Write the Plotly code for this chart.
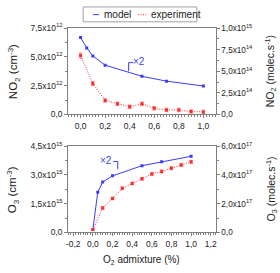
import plotly.graph_objects as go

# ---------------- data ----------------
x_model = [0.0, 0.05, 0.1, 0.2, 0.5, 0.7, 1.0]
no2_model = [6.69e12, 5.78e12, 5.08e12, 4.28e12, 3.31e12, 2.89e12, 2.47e12]
o3_model = [0.15e15, 2.10e15, 2.63e15, 2.95e15, 3.48e15, 3.68e15, 3.97e15]

x_exp = [0.0, 0.1, 0.2, 0.3, 0.4, 0.5, 0.6, 0.7, 0.8, 0.9, 1.0]
no2_exp = [5.11e12, 2.69e12, 1.22e12, 0.92e12, 0.67e12, 0.92e12, 0.53e12, 0.39e12, 0.39e12, 0.25e12, 0.22e12]
no2_err = [0.22e12, 0.18e12, 0.15e12, 0.15e12, 0.15e12, 0.15e12, 0.15e12, 0.15e12, 0.15e12, 0.15e12, 0.15e12]
o3_exp = [0.15e15, 1.28e15, 1.77e15, 2.30e15, 2.55e15, 2.80e15, 3.05e15, 3.18e15, 3.35e15, 3.52e15, 3.68e15]
o3_err = [0.05e15, 0.07e15, 0.07e15, 0.07e15, 0.07e15, 0.07e15, 0.07e15, 0.08e15, 0.08e15, 0.08e15, 0.08e15]

top_xticks = [0.0, 0.2, 0.4, 0.6, 0.8, 1.0]
top_xlabels = ["0,0", "0,2", "0,4", "0,6", "0,8", "1,0"]
bot_xticks = [-0.2, 0.0, 0.2, 0.4, 0.6, 0.8, 1.0, 1.2]
bot_xlabels = ["-0,2", "0,0", "0,2", "0,4", "0,6", "0,8", "1,0", "1,2"]

no2_lticks = [0, 2.5e12, 5.0e12, 7.5e12]
no2_llabels = ["0,0", "2,5x10<sup>12</sup>", "5,0x10<sup>12</sup>", "7,5x10<sup>12</sup>"]
no2_rticks = [0, 2.5e14, 5.0e14, 7.5e14, 1.0e15]
no2_rlabels = ["0,0", "2,5x10<sup>14</sup>", "5,0x10<sup>14</sup>", "7,5x10<sup>14</sup>", "1,0x10<sup>15</sup>"]
o3_lticks = [0, 1.5e15, 3.0e15, 4.5e15]
o3_llabels = ["0,0", "1,5x10<sup>15</sup>", "3,0x10<sup>15</sup>", "4,5x10<sup>15</sup>"]
o3_rticks = [0, 2.0e17, 4.0e17, 6.0e17]
o3_rlabels = ["0,0", "2,0x10<sup>17</sup>", "4,0x10<sup>17</sup>", "6,0x10<sup>17</sup>"]

BLUE = "#3b3bff"
RED = "#ff2a2a"
ERR = "#ff8a8a"
GRAY = "#7f7f7f"
TXT = "#222222"
FONT = "Liberation Sans"
DOTS = "1px,1.5px"

W, H = 280, 273


def px(x, y):
    return x / W, 1 - y / H


fig = go.Figure()

# top panel
fig.add_trace(go.Scatter(x=x_model, y=no2_model, mode="lines+markers", xaxis="x", yaxis="y",
                         line=dict(color=BLUE, width=1), marker=dict(symbol="square", size=3, color=BLUE),
                         showlegend=False))
fig.add_trace(go.Scatter(x=x_exp, y=no2_exp, mode="lines+markers", xaxis="x", yaxis="y",
                         line=dict(color=RED, width=1, dash=DOTS),
                         marker=dict(symbol="square", size=3, color=RED),
                         error_y=dict(type="data", array=no2_err, color=ERR, thickness=1, width=2),
                         showlegend=False))
# bottom panel
fig.add_trace(go.Scatter(x=x_model, y=o3_model, mode="lines+markers", xaxis="x2", yaxis="y3",
                         line=dict(color=BLUE, width=1), marker=dict(symbol="square", size=3, color=BLUE),
                         showlegend=False))
fig.add_trace(go.Scatter(x=x_exp, y=o3_exp, mode="lines+markers", xaxis="x2", yaxis="y3",
                         line=dict(color=RED, width=1, dash=DOTS),
                         marker=dict(symbol="square", size=3, color=RED),
                         error_y=dict(type="data", array=o3_err, color=ERR, thickness=1, width=2),
                         showlegend=False))
# invisible traces for right axes
fig.add_trace(go.Scatter(x=[None], y=[None], xaxis="x", yaxis="y2", showlegend=False))
fig.add_trace(go.Scatter(x=[None], y=[None], xaxis="x2", yaxis="y4", showlegend=False))

xd = [67 / W, 216 / W]
top_d = [1 - 113 / H, 1 - 23 / H]
bot_d = [1 - 236 / H, 1 - 146 / H]

tickfont = dict(family=FONT, size=8.5, color=TXT)
rtickfont = dict(family=FONT, size=8.2, color=TXT)


def axis_common(**kw):
    d = dict(showline=True, linecolor=GRAY, linewidth=1, mirror=False, showgrid=False, zeroline=False,
             ticks="outside", ticklen=3, tickcolor=GRAY, tickwidth=1, tickfont=tickfont,
             tickmode="array", fixedrange=True)
    d.update(kw)
    return d


fig.update_layout(
    width=W, height=H, margin=dict(l=0, r=0, t=0, b=0),
    paper_bgcolor="white", plot_bgcolor="white", showlegend=False,
    xaxis=axis_common(domain=xd, anchor="y", range=[-0.1, 1.1], tickvals=top_xticks, ticktext=top_xlabels,
                      mirror=True, minor=dict(dtick=0.025, tick0=0, ticks="outside", ticklen=2, tickcolor=GRAY)),
    yaxis=axis_common(domain=top_d, anchor="x", range=[0, 7.5e12], tickvals=no2_lticks, ticktext=no2_llabels,
                      minor=dict(tickvals=[1.25e12, 3.75e12, 6.25e12], ticks="outside", ticklen=2, tickcolor=GRAY)),
    yaxis2=axis_common(overlaying="y", side="right", anchor="x", range=[0, 1.0e15], tickvals=no2_rticks,
                       ticktext=no2_rlabels, tickfont=rtickfont,
                       minor=dict(tickvals=[1.25e14, 3.75e14, 6.25e14, 8.75e14], ticks="outside", ticklen=2,
                                  tickcolor=GRAY)),
    xaxis2=axis_common(domain=xd, anchor="y3", range=[-0.25, 1.25], tickvals=bot_xticks, ticktext=bot_xlabels,
                       mirror=True, minor=dict(dtick=0.025, tick0=0, ticks="outside", ticklen=2, tickcolor=GRAY)),
    yaxis3=axis_common(domain=bot_d, anchor="x2", range=[0, 4.5e15], tickvals=o3_lticks, ticktext=o3_llabels,
                       minor=dict(tickvals=[0.75e15, 2.25e15, 3.75e15], ticks="outside", ticklen=2, tickcolor=GRAY)),
    yaxis4=axis_common(overlaying="y3", side="right", anchor="x2", range=[0, 6.0e17], tickvals=o3_rticks,
                       ticktext=o3_rlabels, tickfont=rtickfont,
                       minor=dict(tickvals=[1e17, 3e17, 5e17], ticks="outside", ticklen=2, tickcolor=GRAY)),
)

ann = []
shapes = []


def text(x, y, s, size=11, color=TXT, angle=0, xanchor="center"):
    X, Y = px(x, y)
    ann.append(dict(x=X, y=Y, xref="paper", yref="paper", text=s, showarrow=False, textangle=angle,
                    xanchor=xanchor, yanchor="middle", font=dict(family=FONT, size=size, color=color)))


def seg(x0, y0, x1, y1, color, dash="solid", width=1):
    X0, Y0 = px(x0, y0)
    X1, Y1 = px(x1, y1)
    shapes.append(dict(type="line", xref="paper", yref="paper", x0=X0, y0=Y0, x1=X1, y1=Y1,
                       line=dict(color=color, width=width, dash=dash)))


# axis titles
text(12, 68, "NO<sub>2</sub> (cm<sup>-3</sup>)", size=11.5, angle=-90)
text(272, 68, "NO<sub>2</sub> (molec.s<sup>-1</sup>)", size=10.5, angle=-90)
text(11, 191, "O<sub>3</sub> (cm<sup>-3</sup>)", size=11.5, angle=-90)
text(273, 191, "O<sub>3</sub> (molec.s<sup>-1</sup>)", size=10.5, angle=-90)
text(141, 265, "O<sub>2</sub> admixture (%)", size=10)

# x2 annotations
text(138, 58, "×2", size=10, color=BLUE)
seg(128, 68, 128, 59, BLUE)
seg(128, 59, 132.5, 59, BLUE)
text(105, 161.5, "×2", size=10, color=BLUE)
seg(112.5, 162, 117, 162, BLUE)
seg(117, 162, 117, 170, BLUE)

# legend
X0, Y0 = px(82, 1)
X1, Y1 = px(197, 16.5)
shapes.append(dict(type="rect", xref="paper", yref="paper", x0=X0, y0=Y0, x1=X1, y1=Y1,
                   line=dict(color="#a0a0a0", width=1), fillcolor="white"))
seg(92, 9, 98, 9, BLUE)
text(101, 9, "model", size=10, xanchor="left")
seg(137.5, 9, 147, 9, RED, dash=DOTS)
text(149, 9, "experiment", size=10, xanchor="left")

fig.update_layout(annotations=ann, shapes=shapes)

fig.write_html("out.html", config={"displayModeBar": False, "staticPlot": True},
               post_script="document.body.style.margin='0';document.body.style.overflow='hidden';")
